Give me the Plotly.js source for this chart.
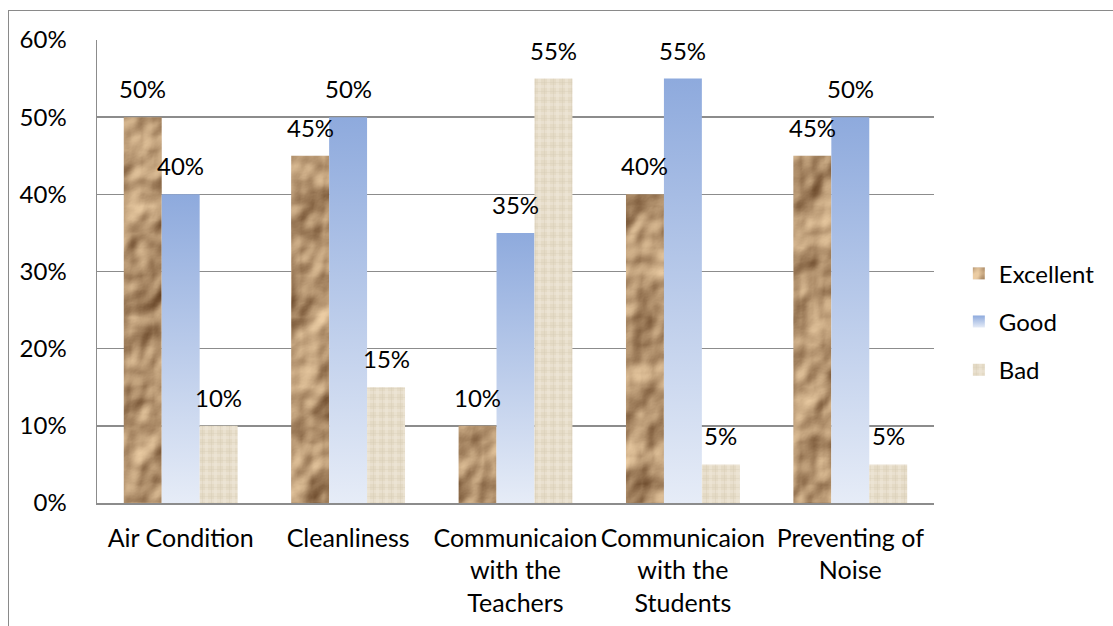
<!DOCTYPE html>
<html>
<head>
<meta charset="utf-8">
<script src="https://cdn.plot.ly/plotly-3.0.1.min.js"></script>
<style>
  html, body { margin: 0; padding: 0; background: #ffffff; overflow: hidden; }
  #chart { width: 1113px; height: 626px; position: relative; }
  #frame {
    position: absolute; left: 8px; top: 10px; width: 1120px; height: 700px;
    border: 1.5px solid #8a8a8a; pointer-events: none; box-sizing: border-box;
  }
</style>
</head>
<body>
<div id="chart"></div>
<div id="frame"></div>
<script>
// Survey results per facility aspect
const categories = [
  'Air Condition',
  'Cleanliness',
  'Communicaion<br>with the<br>Teachers',
  'Communicaion<br>with the<br>Students',
  'Preventing of<br>Noise'
];
const seriesNames = ['Excellent', 'Good', 'Bad'];
const excellent = [0.50, 0.45, 0.10, 0.40, 0.45];
const good      = [0.40, 0.50, 0.35, 0.55, 0.50];
const bad       = [0.10, 0.15, 0.55, 0.05, 0.05];
const yTicks    = [0, 0.1, 0.2, 0.3, 0.4, 0.5, 0.6];

const seriesValues = [excellent, good, bad];
const baseColors = ['#b08c62', '#a9bde6', '#e2d8c2'];
const FONT = 'Lato, "Open Sans", sans-serif';
const BARGAP = 0.32;

const traces = seriesNames.map((name, k) => ({
  type: 'bar',
  name: name,
  legendgroup: name,
  x: categories,
  y: seriesValues[k],
  marker: { color: baseColors[k], line: { width: 0 } },
  hoverinfo: 'skip'
}));

// Value labels above each bar, centred on the bar's slot within its group
const slot = (1 - BARGAP) / seriesNames.length;
const annotations = [];
seriesValues.forEach((vals, k) => {
  vals.forEach((v, i) => {
    annotations.push({
      x: i + (k - (seriesNames.length - 1) / 2) * slot,
      y: v,
      xref: 'x', yref: 'y',
      text: Math.round(v * 100) + '%',
      showarrow: false,
      yanchor: 'bottom',
      yshift: 12,
      font: { family: FONT, size: 24, color: '#000000' }
    });
  });
});

const layout = {
  width: 1113,
  height: 626,
  margin: { l: 97, r: 179, t: 40, b: 123, pad: 0, autoexpand: false },
  paper_bgcolor: '#ffffff',
  plot_bgcolor: '#ffffff',
  barmode: 'group',
  bargap: BARGAP,
  bargroupgap: 0,
  font: { family: FONT, size: 24, color: '#000000' },
  showlegend: true,
  legend: {
    xref: 'container', yref: 'container',
    x: 0.8615, y: 0.486, xanchor: 'left', yanchor: 'middle',
    traceorder: 'grouped', tracegroupgap: 14,
    font: { family: FONT, size: 24, color: '#000000' },
    itemwidth: 30, bgcolor: 'rgba(0,0,0,0)'
  },
  xaxis: {
    type: 'category',
    showgrid: false,
    showline: true, linecolor: '#8c8c8c', linewidth: 1.5,
    ticks: '', ticklabelstandoff: 12,
    tickfont: { family: FONT, size: 25, color: '#000000' },
    fixedrange: true
  },
  yaxis: {
    range: [0, 0.6],
    tickvals: yTicks,
    tickformat: '.0%',
    showgrid: true, gridcolor: '#8c8c8c', gridwidth: 1.5,
    showline: true, linecolor: '#8c8c8c', linewidth: 1.5,
    zeroline: false,
    ticks: '', ticklabelstandoff: 24,
    tickfont: { family: FONT, size: 24, color: '#000000' },
    fixedrange: true
  },
  annotations: annotations
};

const SVGNS = 'http://www.w3.org/2000/svg';
// Fills: blue gradient, crumpled kraft paper (lit noise mapped to browns), burlap weave
const DEFS = `
  <linearGradient id="fillGood" x1="0" y1="0" x2="0" y2="1">
    <stop offset="0" stop-color="#8eaadd"/>
    <stop offset="1" stop-color="#e6ecf7"/>
  </linearGradient>
  <filter id="fillExcellent" x="0" y="0" width="1" height="1" color-interpolation-filters="sRGB">
    <feTurbulence type="fractalNoise" baseFrequency="0.022 0.018" numOctaves="3" seed="11" result="noise"/>
    <feDiffuseLighting in="noise" lighting-color="#ffffff" surfaceScale="7" diffuseConstant="1.15" result="light">
      <feDistantLight azimuth="235" elevation="38"/>
    </feDiffuseLighting>
    <feColorMatrix in="light" type="matrix"
      values="0.72 0 0 0 0.20
              0 0.74 0 0 0.06
              0 0 0.68 0 -0.04
              0 0 0 0 1" result="tinted"/>
    <feComposite in="tinted" in2="SourceAlpha" operator="in"/>
  </filter>
  <pattern id="fillBad" patternUnits="userSpaceOnUse" width="9" height="9">
    <rect x="0" y="0" width="9" height="9" fill="#e4dac5"/>
    <rect x="0" y="0" width="9" height="3" fill="#ece5d5" opacity="0.6"/>
    <rect x="0" y="0" width="3" height="9" fill="#efe8da" opacity="0.5"/>
    <rect x="6" y="0" width="1" height="9" fill="#d4c9b0" opacity="0.35"/>
    <rect x="0" y="6" width="9" height="1" fill="#d6ccb3" opacity="0.3"/>
  </pattern>`;

function applyTextures(gd) {
  const svg = gd.querySelector('svg.main-svg');
  if (!svg) return;
  if (!svg.querySelector('#fillGood')) {
    const defs = document.createElementNS(SVGNS, 'defs');
    defs.innerHTML = DEFS;
    svg.insertBefore(defs, svg.firstChild);
  }
  const styleNode = (node, k) => {
    if (k === 0) {
      node.style.fill = '#b08c62';
      node.setAttribute('filter', 'url(#fillExcellent)');
    } else if (k === 1) {
      node.style.fill = 'url(#fillGood)';
    } else {
      node.style.fill = 'url(#fillBad)';
    }
  };
  gd.querySelectorAll('.barlayer .trace').forEach((tr, k) => {
    tr.querySelectorAll('.point path').forEach(p => styleNode(p, k));
  });
  gd.querySelectorAll('.legend .traces').forEach((tr, k) => {
    tr.querySelectorAll('.legendpoints path').forEach(p => styleNode(p, k));
  });
}

const gd = document.getElementById('chart');
Plotly.newPlot(gd, traces, layout, { displayModeBar: false, staticPlot: true })
  .then(() => {
    applyTextures(gd);
    gd.on('plotly_afterplot', () => applyTextures(gd));
  });
</script>
</body>
</html>
